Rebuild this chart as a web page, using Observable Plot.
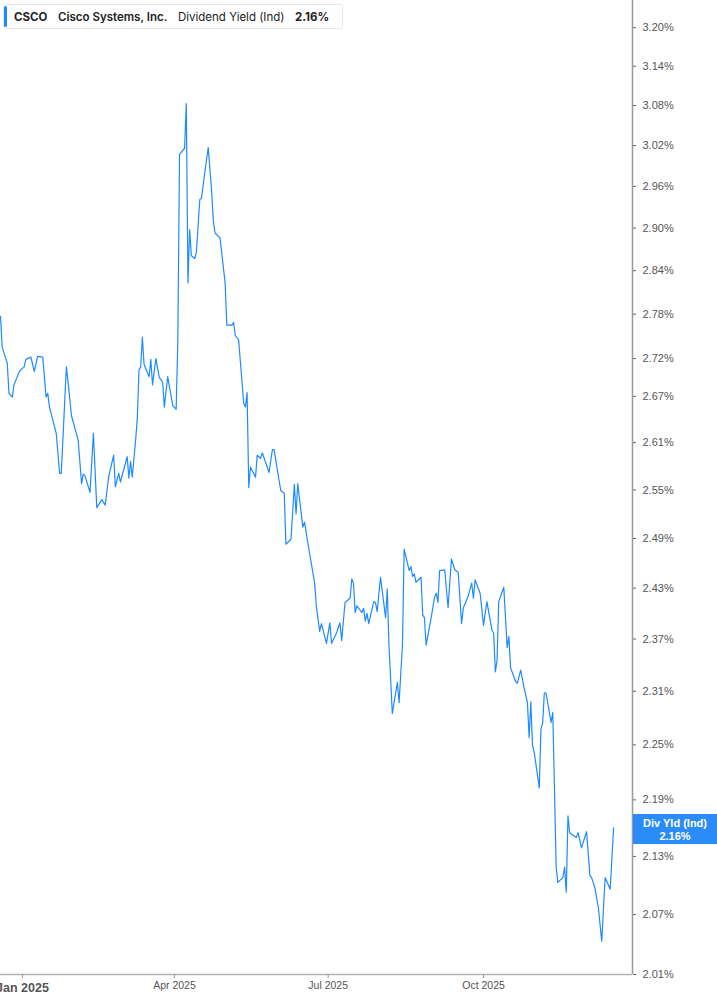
<!DOCTYPE html>
<html>
<head>
<meta charset="utf-8">
<script src="https://cdn.jsdelivr.net/npm/d3@7"></script>
<script src="https://cdn.jsdelivr.net/npm/@observablehq/plot@0.6"></script>
<style>
  html, body { margin: 0; padding: 0; background: #fff; }
  #wrap { position: relative; width: 717px; height: 1005px; overflow: hidden; }
  #legend {
    position: absolute; left: 3px; top: 4px; width: 340px; height: 25px;
    border: 1px solid #e8e8e8; border-radius: 3px; background: #fff;
    font-family: Inter, "Noto Sans", sans-serif; font-size: 11.5px; color: #222;
    display: flex; align-items: center; box-sizing: border-box;
  }
  #legend .bar { position: absolute; left: 0; top: 1px; bottom: 1px; width: 3px; background: #1e8aff; border-radius: 2px; }
  #legend span { white-space: nowrap; position: absolute; top: 5px; }
  #vlabel {
    position: absolute; left: 633px; width: 84px; height: 30px; background: #2b8cf7;
    color: #fff; font-family: "Liberation Sans", Arial, sans-serif; font-weight: bold; font-size: 11px;
    text-align: center; line-height: 12.5px; padding-top: 3px; box-sizing: border-box;
  }
</style>
</head>
<body>
<div id="wrap"></div>
<script>
// ---- data ----
const dates = [
"2024-12-19","2024-12-20","2024-12-23","2024-12-24","2024-12-26","2024-12-27","2024-12-30","2024-12-31",
"2025-01-02","2025-01-03","2025-01-06","2025-01-08","2025-01-10","2025-01-13","2025-01-15","2025-01-16","2025-01-17","2025-01-21","2025-01-23","2025-01-24","2025-01-27","2025-01-28","2025-01-30",
"2025-02-03","2025-02-05","2025-02-06","2025-02-07","2025-02-10","2025-02-12","2025-02-14","2025-02-17","2025-02-19","2025-02-21","2025-02-24","2025-02-25","2025-02-27","2025-02-28",
"2025-03-04","2025-03-05","2025-03-06","2025-03-07","2025-03-09","2025-03-10","2025-03-11","2025-03-12","2025-03-13","2025-03-14","2025-03-17","2025-03-18","2025-03-19","2025-03-21","2025-03-23","2025-03-25","2025-03-26","2025-03-28","2025-03-31",
"2025-04-02","2025-04-03","2025-04-04","2025-04-05","2025-04-07","2025-04-08","2025-04-09","2025-04-10","2025-04-11","2025-04-13","2025-04-14","2025-04-16","2025-04-17","2025-04-19","2025-04-21","2025-04-23","2025-04-24","2025-04-25","2025-04-28",
"2025-05-01","2025-05-02","2025-05-05","2025-05-06","2025-05-07","2025-05-09","2025-05-12","2025-05-13","2025-05-14","2025-05-15","2025-05-16","2025-05-19","2025-05-20","2025-05-22","2025-05-23","2025-05-27","2025-05-29","2025-05-30",
"2025-06-02","2025-06-03","2025-06-05","2025-06-06","2025-06-09","2025-06-11","2025-06-12","2025-06-13","2025-06-16","2025-06-17","2025-06-20","2025-06-23","2025-06-24","2025-06-26","2025-06-27","2025-06-30",
"2025-07-02","2025-07-03","2025-07-06","2025-07-08","2025-07-09","2025-07-11","2025-07-14","2025-07-15","2025-07-16","2025-07-17","2025-07-18","2025-07-21","2025-07-22","2025-07-23","2025-07-24","2025-07-25","2025-07-28","2025-07-29","2025-07-30",
"2025-08-01","2025-08-04","2025-08-05","2025-08-06","2025-08-08","2025-08-11","2025-08-12","2025-08-14","2025-08-15","2025-08-18","2025-08-19","2025-08-20","2025-08-21","2025-08-22","2025-08-25","2025-08-26","2025-08-27","2025-08-28","2025-08-31",
"2025-09-02","2025-09-03","2025-09-04","2025-09-05","2025-09-08","2025-09-10","2025-09-12","2025-09-14","2025-09-16","2025-09-18","2025-09-19","2025-09-22","2025-09-24","2025-09-25","2025-09-26","2025-09-29",
"2025-10-01","2025-10-03","2025-10-06","2025-10-07","2025-10-08","2025-10-09","2025-10-10","2025-10-13","2025-10-15","2025-10-16","2025-10-17","2025-10-20","2025-10-21","2025-10-23","2025-10-25","2025-10-27","2025-10-28","2025-10-29","2025-10-30","2025-10-31",
"2025-11-03","2025-11-04","2025-11-05","2025-11-06","2025-11-07","2025-11-10","2025-11-11","2025-11-12","2025-11-13","2025-11-14","2025-11-17","2025-11-18","2025-11-19","2025-11-20","2025-11-21","2025-11-25","2025-11-26","2025-11-28",
"2025-12-01","2025-12-03","2025-12-04","2025-12-06","2025-12-08","2025-12-10","2025-12-12","2025-12-15","2025-12-17"
];
const yields = [
2.777,2.735,2.714,2.674,2.669,2.685,2.702,2.705,
2.709,2.719,2.722,2.703,2.723,2.722,2.669,2.674,2.656,2.622,2.571,2.571,2.709,2.689,2.645,
2.613,2.558,2.570,2.568,2.547,2.622,2.528,2.538,2.531,2.566,2.594,2.554,2.571,2.560,
2.592,2.565,2.586,2.566,2.613,2.641,2.705,2.709,2.749,2.712,2.696,2.719,2.685,2.720,2.695,2.689,2.656,2.696,2.658,
2.653,2.745,3.007,3.010,3.016,3.083,2.823,2.898,2.861,2.857,2.866,2.941,2.943,2.981,3.017,2.954,2.911,2.893,2.886,
2.823,2.765,2.765,2.769,2.751,2.745,2.661,2.656,2.675,2.553,2.579,2.566,2.594,2.590,2.597,2.572,2.601,2.601,
2.561,2.549,2.546,2.483,2.489,2.557,2.520,2.558,2.504,2.510,2.472,2.436,2.409,2.379,2.388,2.365,
2.389,2.365,2.377,2.389,2.368,2.413,2.418,2.441,2.436,2.401,2.409,2.401,2.406,2.391,2.400,2.388,2.414,2.413,2.402,
2.443,2.395,2.429,2.363,2.285,2.320,2.297,2.363,2.477,2.451,2.456,2.444,2.447,2.437,2.443,2.398,2.395,2.363,2.395,
2.419,2.424,2.413,2.451,2.452,2.407,2.465,2.452,2.449,2.388,2.406,2.421,2.436,2.418,2.440,2.424,
2.386,2.414,2.380,2.377,2.332,2.345,2.414,2.431,2.360,2.373,2.337,2.321,2.319,2.334,2.314,2.297,2.258,2.298,2.249,2.242,
2.203,2.268,2.274,2.308,2.308,2.275,2.286,2.203,2.119,2.103,2.108,2.119,2.093,2.173,2.155,2.150,2.155,2.139,
2.156,2.110,2.108,2.097,2.077,2.043,2.108,2.096,2.160
];
const yTicks = [2.01,2.07,2.13,2.19,2.25,2.31,2.37,2.43,2.49,2.55,2.61,2.67,2.72,2.78,2.84,2.90,2.96,3.02,3.08,3.14,3.20];
const xTickDates = ["2025-01-01","2025-04-01","2025-07-01","2025-10-01"];
const xDomainStr = ["2024-12-19","2025-12-28T05:00:00Z"];
const yDomain = [2.01, 3.243];
const lastValue = 2.16;

// ---- build ----
const data = dates.map((d, i) => ({date: new Date(d), value: yields[i]}));
const xTicks = xTickDates.map(d => new Date(d));
const xDomain = xDomainStr.map(d => new Date(d));
const fmtMonth = d3.utcFormat("%b %Y");

const chart = Plot.plot({
  width: 717,
  height: 1005,
  marginLeft: 0,
  marginRight: 85,
  marginTop: 0,
  marginBottom: 31,
  style: {background: "#fff", fontFamily: "'Liberation Sans', Arial, sans-serif", fontSize: "11px", overflow: "visible"},
  x: {type: "utc", domain: xDomain, axis: null},
  y: {type: "log", domain: yDomain, axis: null},
  marks: [
    Plot.line(data, {x: "date", y: "value", stroke: "#1e8aff", strokeWidth: 1.2}),
    Plot.ruleY([yDomain[0]], {stroke: "#b3b3b3", strokeWidth: 1.6}),
    Plot.ruleX([xDomain[1]], {stroke: "#9a9a9a", strokeWidth: 1.5}),
    Plot.axisY({anchor: "right", label: null, ticks: yTicks, tickFormat: d => d.toFixed(2) + "%",
      tickSize: 3, tickPadding: 7, fontSize: 11, fill: "#555", stroke: "#666"}),
    Plot.axisX({anchor: "bottom", label: null, ticks: xTicks, tickFormat: () => "", tickSize: 4, stroke: "#999"}),
    Plot.text(xTicks.slice(0, 1), {x: d => d, frameAnchor: "bottom", dy: 17, text: d => fmtMonth(d),
      fontSize: 12.5, fontWeight: "bold", fill: "#555"}),
    Plot.text(xTicks.slice(1), {x: d => d, frameAnchor: "bottom", dy: 14, text: d => fmtMonth(d),
      fontSize: 10.5, fill: "#555"})
  ]
});

const wrap = document.getElementById("wrap");
wrap.appendChild(chart);

// legend (top-left)
const legend = document.createElement("div");
legend.id = "legend";
legend.innerHTML = '<div class="bar"></div>' +
  '<span style="left:10px;font-weight:700">CSCO</span>' +
  '<span style="left:54px;font-weight:600">Cisco Systems, Inc.</span>' +
  '<span style="left:174px;font-weight:400">Dividend Yield (Ind)</span>' +
  '<span style="left:291px;font-weight:700">' + lastValue.toFixed(2) + '%</span>';
wrap.appendChild(legend);

// last value label on the right axis
const yScale = chart.scale("y");
const yPos = yScale.apply(lastValue);
const vl = document.createElement("div");
vl.id = "vlabel";
vl.style.top = (yPos - 13) + "px";
vl.innerHTML = "Div Yld (Ind)<br>" + lastValue.toFixed(2) + "%";
wrap.appendChild(vl);
</script>
</body>
</html>
